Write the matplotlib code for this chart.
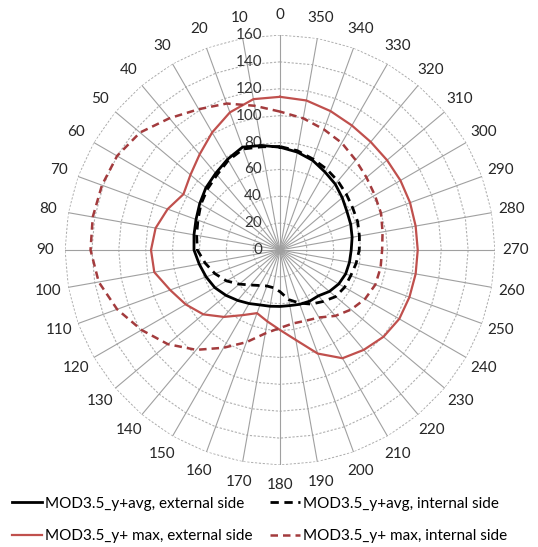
import numpy as np
import matplotlib.pyplot as plt

plt.rcParams['font.family'] = ['Lato', 'DejaVu Sans']

# angle categories (degrees) and y+ values
angles = list(range(0, 360, 10))
avg_ext = [76.5, 79, 81.5, 78, 74.5, 72, 69, 66.5, 65, 64, 61, 58.5, 56, 52.5, 49, 46, 43.5, 42.5,
           42, 42, 43, 44, 44.5, 48, 50.5, 52, 52.5, 53, 54.5, 56, 57.5, 60.5, 64, 67, 71, 74]
avg_int = [77, 78, 80, 77, 73, 70.5, 68, 65, 63, 61.5, 56.5, 51.5, 46, 39.5, 34, 30.5, 28.5, 28.5,
           31, 37.5, 42, 46.5, 50, 54, 55.5, 56, 57.5, 59, 60, 61.5, 62.5, 64.5, 67, 69.5, 72, 75]
max_ext = [114, 114, 109, 101, 93, 87, 83, 89, 94, 96, 95, 87, 81, 74.5, 65, 56, 50, 54,
           59.5, 68, 82, 93, 97, 100.5, 102.5, 102.5, 102.5, 102.5, 102.5, 103, 103.5, 104, 105, 107, 110, 113]
max_int = [103, 109, 116, 121, 128, 136, 140, 141, 141.5, 141, 137, 129, 119, 109, 97, 84, 73, 63,
           58, 55.5, 56, 58, 64, 69, 73, 75.5, 76, 76, 77.5, 80, 81.5, 84, 87.5, 92, 95.5, 99.5]
rings = [20, 40, 60, 80, 100, 120, 140, 160]
labels = ['MOD3.5_y+avg, external side', 'MOD3.5_y+avg, internal side',
          'MOD3.5_y+ max, external side', 'MOD3.5_y+ max, internal side']

th = np.deg2rad(angles + [angles[0]])


def closed(v):
    return v + [v[0]]


fig = plt.figure(figsize=(5.38, 5.47), dpi=100)
ax = fig.add_axes([0.1208, 0.1499, 0.7993, 0.7861], projection='polar')
ax.set_theta_zero_location('N')
ax.set_theta_direction(1)
ax.set_ylim(0, 160)
ax.grid(False)
ax.spines['polar'].set_visible(False)
ax.set_xticks([])
ax.set_yticks([])

# polygon gridlines and spokes (radar style)
for r in rings:
    ax.plot(th, [r] * len(th), color='#b0b0b0', lw=0.8, ls=(0, (2, 1.5)), zorder=1)
for a in np.deg2rad(angles):
    ax.plot([a, a], [0, 160], color='#a0a0a0', lw=0.8, zorder=1)

# radial labels
for r in [0] + rings:
    ax.annotate(str(r), xy=(0, r), xytext=(-13, 0), textcoords='offset points',
                ha='right', va='center', fontsize=11, color='#333333', zorder=2)

# angle labels
for a in angles:
    ax.text(np.deg2rad(a), 175, str(a), ha='center', va='center', fontsize=11, color='#262626')

l1, = ax.plot(th, closed(avg_ext), color='black', lw=2, zorder=5)
l2, = ax.plot(th, closed(avg_int), color='black', lw=2, ls=(0, (3, 2)), zorder=5)
l3, = ax.plot(th, closed(max_ext), color='#c0504d', lw=1.6, zorder=4)
l4, = ax.plot(th, closed(max_int), color='#a33b3d', lw=1.8, ls=(0, (3, 2)), zorder=4)

# ncol=2 fills by column, so order handles to get rows: avg pair, then max pair
fig.legend([l1, l3, l2, l4], [labels[0], labels[2], labels[1], labels[3]],
           loc='upper left', bbox_to_anchor=(0.022, 0.092), ncol=2, frameon=False,
           fontsize=11, handlelength=2.0, handletextpad=0.2, columnspacing=1.1,
           labelspacing=1.2, borderpad=0, borderaxespad=0)

fig.savefig('out.png', dpi=100)
